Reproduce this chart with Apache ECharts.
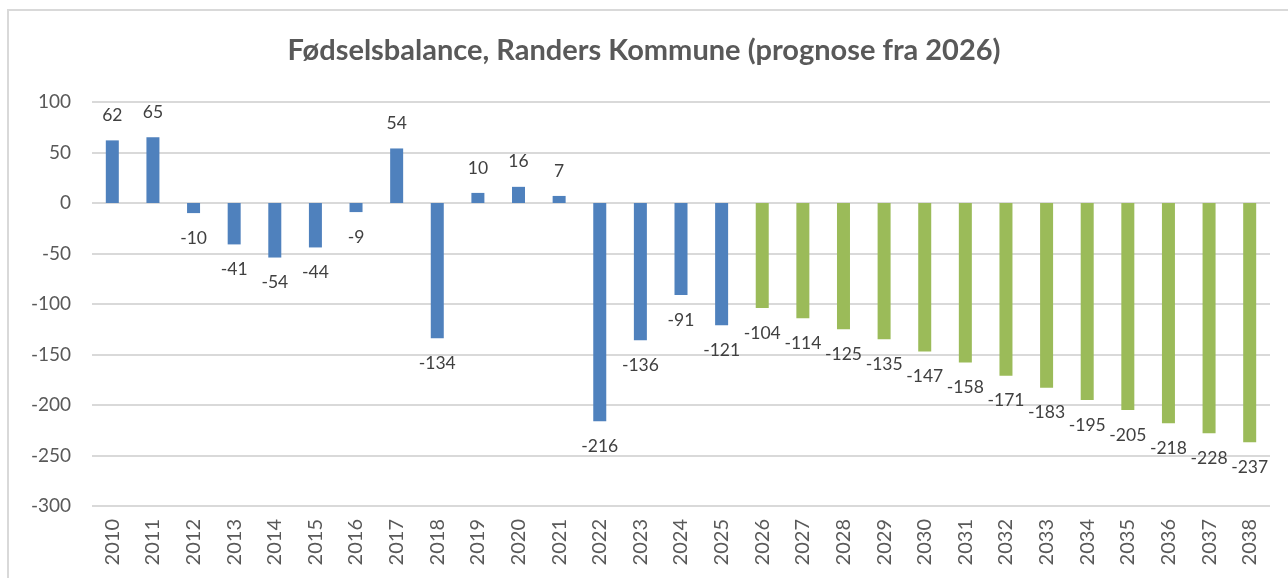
<!DOCTYPE html>
<html>
<head>
<meta charset="utf-8">
<script src="https://cdn.jsdelivr.net/npm/echarts@6/dist/echarts.min.js"></script>
<style>
  html, body { margin: 0; padding: 0; background: #fff; }
  .frame { position: absolute; left: 7px; top: 9px; width: 1290px; height: 580px; border: 2px solid #d9d9d9; box-sizing: border-box; }
  .chart { position: absolute; left: 0; top: 0; width: 1288px; height: 578px; }
</style>
</head>
<body>
<div class="frame"></div>
<div class="chart"></div>
<script>
  let years = ['2010','2011','2012','2013','2014','2015','2016','2017','2018','2019',
               '2020','2021','2022','2023','2024','2025','2026','2027','2028','2029',
               '2030','2031','2032','2033','2034','2035','2036','2037','2038'];
  // historisk 2010-2025
  let actual = [62, 65, -10, -41, -54, -44, -9, 54, -134, 10, 16, 7, -216, -136, -91, -121];
  // prognose 2026-2038
  let forecast = [-104, -114, -125, -135, -147, -158, -171, -183, -195, -205, -218, -228, -237];
  let yTicks = { min: -300, max: 100, interval: 50 };

  let font = 'Lato, "Noto Sans", sans-serif';

  let myChart = echarts.init(document.querySelector('.chart'));

  let labelCfg = {
    show: true,
    position: 'outside',
    distance: 16,
    color: '#404040',
    fontSize: 17.5,
    fontFamily: font
  };

  myChart.setOption({
    animation: false,
    title: {
      text: 'Fødselsbalance, Randers Kommune (prognose fra 2026)',
      left: 'center',
      top: 31,
      textStyle: { color: '#595959', fontSize: 29, fontWeight: 'bold', fontFamily: font }
    },
    grid: { left: 92, right: 18, top: 102, bottom: 72 },
    xAxis: {
      type: 'category',
      data: years,
      axisLine: { show: false, onZero: false },
      axisTick: { show: false },
      axisLabel: { rotate: 90, margin: 13, color: '#595959', fontSize: 20, fontFamily: font, interval: 0 }
    },
    yAxis: {
      type: 'value',
      min: yTicks.min,
      max: yTicks.max,
      interval: yTicks.interval,
      axisLabel: { margin: 21, color: '#595959', fontSize: 19, fontFamily: font },
      splitLine: { lineStyle: { color: '#d9d9d9', width: 2 } }
    },
    series: [
      {
        name: 'Faktisk',
        type: 'bar',
        stack: 'all',
        barWidth: 13,
        itemStyle: { color: '#4f81bd' },
        label: labelCfg,
        data: years.map((y, i) => i < actual.length ? actual[i] : '-')
      },
      {
        name: 'Prognose',
        type: 'bar',
        stack: 'all',
        barWidth: 13,
        itemStyle: { color: '#9bbb59' },
        label: labelCfg,
        data: years.map((y, i) => i < actual.length ? '-' : forecast[i - actual.length])
      }
    ]
  });
</script>
</body>
</html>
